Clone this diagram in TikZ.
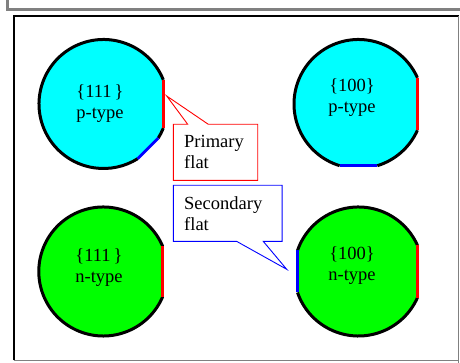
\documentclass[tikz,border=0pt]{standalone}
\usepackage{fontspec}
\setmainfont{Liberation Serif}
\usepackage{tikz}
\usetikzlibrary{calc}
\definecolor{wafercyan}{RGB}{0,255,255}
\definecolor{wafergreen}{RGB}{0,255,0}
\definecolor{framegray}{RGB}{128,128,128}

\begin{document}
\begin{tikzpicture}[x=1pt, y=1pt,
  frameout/.style={draw=framegray, line width=3pt},
  framein/.style={draw=black, line width=1.2pt},
  rim/.style={draw=black, line width=3pt},
  primflat/.style={draw=red, line width=3pt},
  secflat/.style={draw=blue, line width=3pt},
  wafertext/.style={align=center, inner sep=0pt, font=\fontsize{18.5}{21}\selectfont},
  callbox/.style={anchor=north west, align=left, inner xsep=10.7pt, inner ysep=0pt, minimum height=55.7pt, font=\fontsize{18.5}{21}\selectfont},
]
\useasboundingbox (0,0) rectangle (460,363);
\fill[white] (0,0) rectangle (460,363);

% window frame
\draw[frameout] (7.5,363) -- (7.5,353.5) -- (460,353.5);
\draw[framein] (14,2.5) -- (14,347) -- (458.5,347);
\draw[draw=framegray, line width=1pt] (14,2.5) -- (458.5,2.5);
\draw[draw=framegray, line width=1pt] (458.5,0) -- (458.5,347);

% wafer centres
\coordinate (tl) at (103.5,259);
\coordinate (tr) at (358.5,259);
\coordinate (bl) at (103.3,91.5);
\coordinate (br) at (358.5,91.5);

% {111} p-type: primary at 0, secondary at -45
\fill[wafercyan] ([shift={(22:64.5)}]tl) arc[start angle=22, end angle=302, radius=64.5]
  -- ([shift={(328:64.5)}]tl) arc[start angle=328, end angle=338, radius=64.5] -- cycle;
\draw[rim] ([shift={(22:64.5)}]tl) arc[start angle=22, end angle=302, radius=64.5];
\draw[rim] ([shift={(328:64.5)}]tl) arc[start angle=328, end angle=338, radius=64.5];
\draw[primflat] ([shift={(-22:64.5)}]tl) -- ([shift={(22:64.5)}]tl);
\draw[secflat] ([shift={(302:64.5)}]tl) -- ([shift={(328:64.5)}]tl);

% {100} p-type: primary at 0, secondary at -90
\fill[wafercyan] ([shift={(24:64.5)}]tr) arc[start angle=24, end angle=253, radius=64.5]
  -- ([shift={(287:64.5)}]tr) arc[start angle=287, end angle=336, radius=64.5] -- cycle;
\draw[rim] ([shift={(24:64.5)}]tr) arc[start angle=24, end angle=253, radius=64.5];
\draw[rim] ([shift={(287:64.5)}]tr) arc[start angle=287, end angle=336, radius=64.5];
\draw[primflat] ([shift={(-24:64.5)}]tr) -- ([shift={(24:64.5)}]tr);
\draw[secflat] ([shift={(253:64.5)}]tr) -- ([shift={(287:64.5)}]tr);

% {111} n-type: primary only
\fill[wafergreen] ([shift={(23:64.5)}]bl) arc[start angle=23, end angle=337, radius=64.5] -- cycle;
\draw[rim] ([shift={(23:64.5)}]bl) arc[start angle=23, end angle=337, radius=64.5];
\draw[primflat] ([shift={(-23:64.5)}]bl) -- ([shift={(23:64.5)}]bl);

% {100} n-type: primary at 0, secondary at 180
\fill[wafergreen] ([shift={(24:64.5)}]br) arc[start angle=24, end angle=161, radius=64.5]
  -- ([shift={(199:64.5)}]br) arc[start angle=199, end angle=336, radius=64.5] -- cycle;
\draw[rim] ([shift={(24:64.5)}]br) arc[start angle=24, end angle=161, radius=64.5];
\draw[rim] ([shift={(199:64.5)}]br) arc[start angle=199, end angle=336, radius=64.5];
\draw[primflat] ([shift={(-24:64.5)}]br) -- ([shift={(24:64.5)}]br);
\draw[secflat] ([shift={(161:64.5)}]br) -- ([shift={(199:64.5)}]br);

\node[wafertext] (tltext) at (100,259) {\{111\,\}\\p-type};
\node[wafertext] (trtext) at (352,265.5) {\{100\}\\p-type};
\node[wafertext] (bltext) at (99,95.5) {\{111\,\}\\n-type};
\node[wafertext] (brtext) at (352,97) {\{100\}\\n-type};

% callouts
\node[callbox, text width=62.6pt] (prim) at (173.3,238.7) {Primary\\flat};
\coordinate (primtip) at (166.7,267);
\draw[red, line width=0.9pt] (prim.north west) -- ($(prim.north west)+(14.4,0)$) -- (primtip)
  -- ($(prim.north west)+(35,0)$) -- (prim.north east) -- (prim.south east) -- (prim.south west) -- cycle;

\node[callbox, text width=87pt] (sec) at (173.3,177.7) {Secondary\\flat};
\coordinate (sectip) at (286.7,93.7);
\draw[blue, line width=0.9pt] (sec.south west) -- ($(sec.south west)+(63.4,0)$) -- (sectip)
  -- ($(sec.south west)+(90,0)$) -- (sec.south east) -- (sec.north east) -- (sec.north west) -- cycle;
\end{tikzpicture}
\end{document}
